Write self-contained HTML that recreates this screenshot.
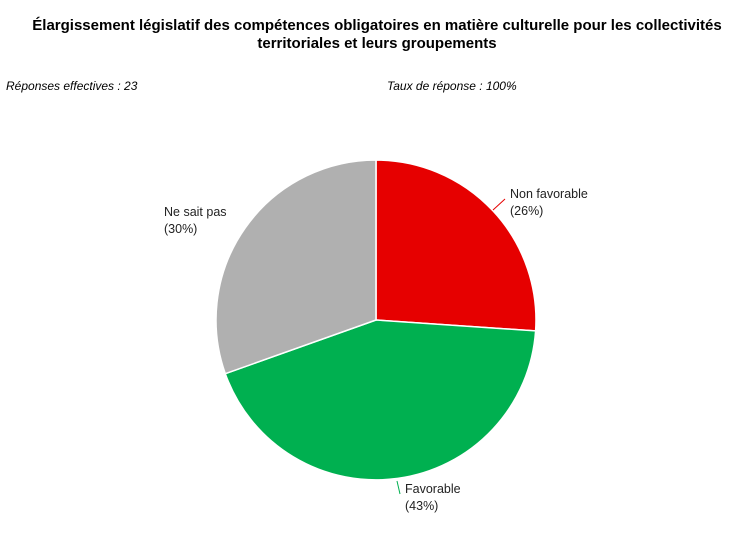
<!DOCTYPE html>
<html><head><meta charset="utf-8"><style>
html,body{margin:0;padding:0;background:#fff;}
svg{display:block;font-family:"Liberation Sans",Arial,sans-serif;}
</style></head><body>
<svg width="754" height="533" viewBox="0 0 754 533" xmlns="http://www.w3.org/2000/svg">
<rect width="754" height="533" fill="#fff"/>
<text x="377" y="30" text-anchor="middle" font-size="15" font-weight="bold" fill="#000">Élargissement législatif des compétences obligatoires en matière culturelle pour les collectivités</text>
<text x="377" y="48" text-anchor="middle" font-size="15" font-weight="bold" fill="#000">territoriales et leurs groupements</text>
<text x="6" y="90" font-size="12" font-style="italic" fill="#000">Réponses effectives : 23</text>
<text x="387" y="90" font-size="12" font-style="italic" fill="#000">Taux de réponse : 100%</text>
<g stroke="#fff" stroke-width="1.5">
<path d="M376,320 L376,160 A160,160 0 0 1 535.6,330.9 Z" fill="#e60000"/>
<path d="M376,320 L535.6,330.9 A160,160 0 0 1 225.3,373.7 Z" fill="#00b050"/>
<path d="M376,320 L225.3,373.7 A160,160 0 0 1 376,160 Z" fill="#b0b0b0"/>
</g>
<line x1="493" y1="210" x2="505" y2="199" stroke="#e60000" stroke-width="1"/>
<line x1="397" y1="481" x2="400" y2="494" stroke="#00b050" stroke-width="1"/>
<g font-size="12.5" fill="#222">
<text x="510" y="198">Non favorable</text>
<text x="510" y="215">(26%)</text>
<text x="405" y="493">Favorable</text>
<text x="405" y="510">(43%)</text>
<text x="164" y="216">Ne sait pas</text>
<text x="164" y="233">(30%)</text>
</g>
</svg>
</body></html>
